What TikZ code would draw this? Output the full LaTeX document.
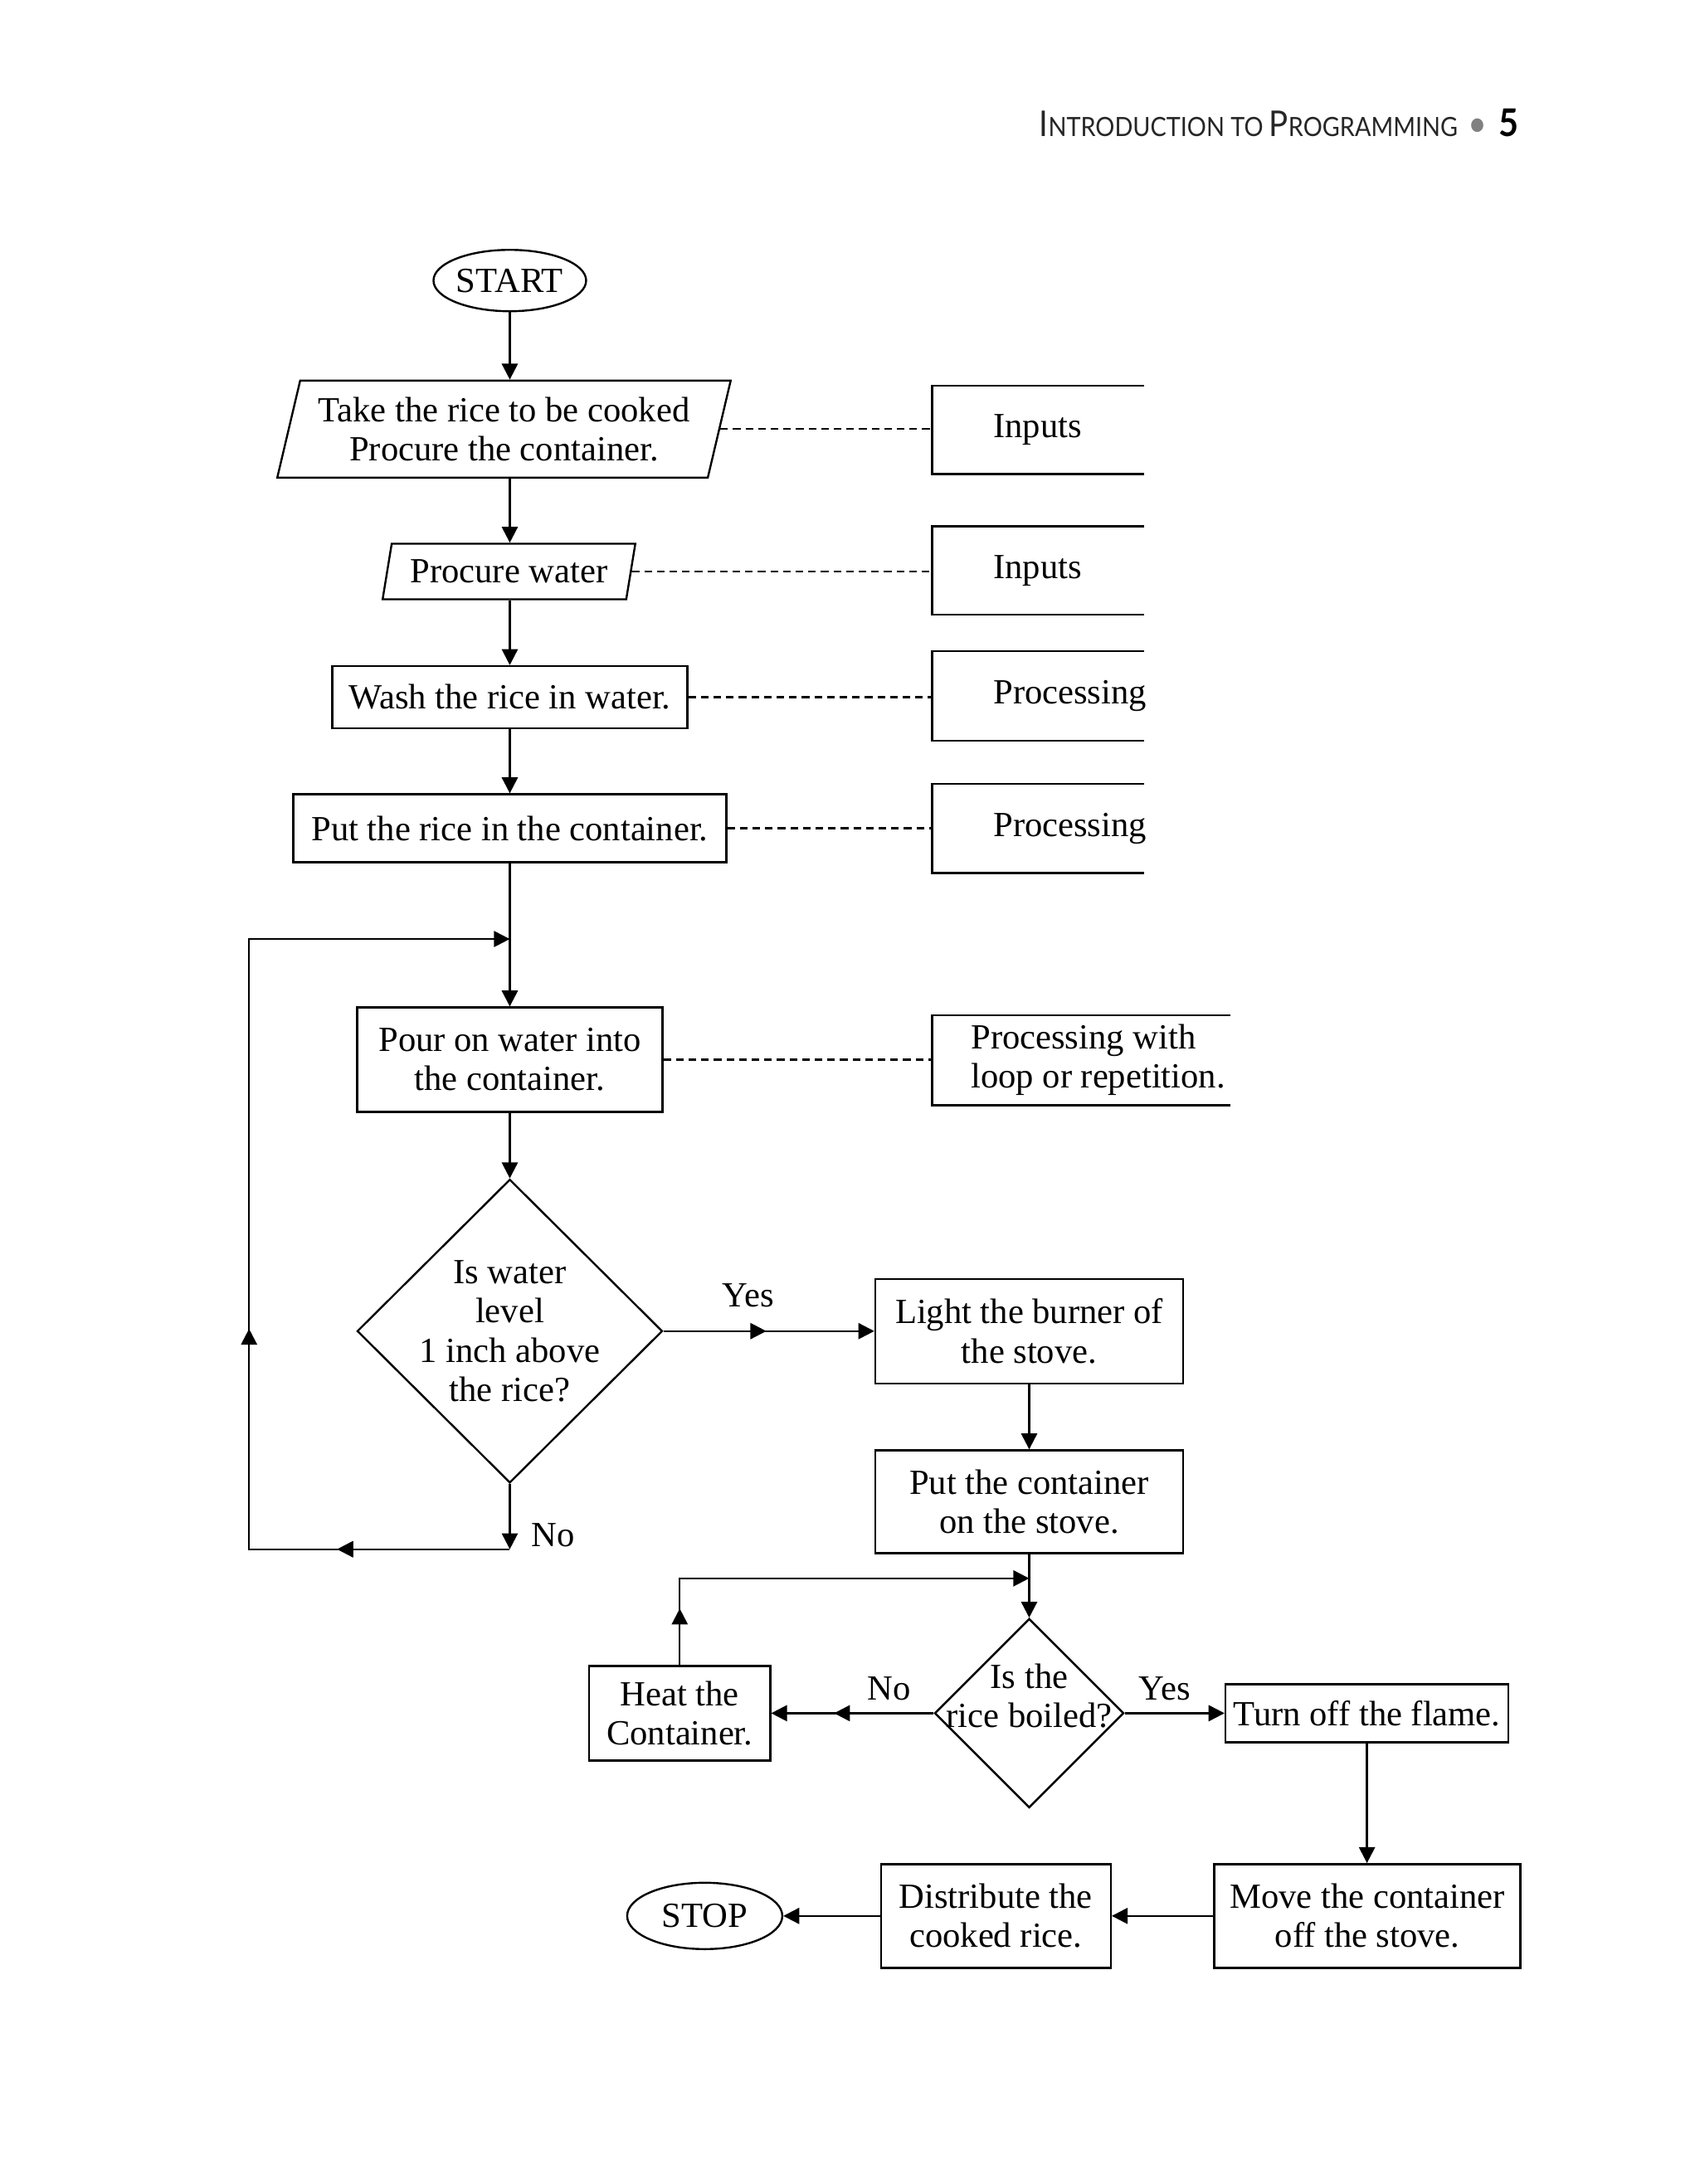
\documentclass[tikz,border=0pt]{standalone}
\usepackage{fontspec}
\setmainfont{Liberation Serif}
\newfontfamily\hdrfont[FakeStretch=0.9]{Lato}
\usetikzlibrary{shapes.geometric, arrows.meta, decorations.markings}
\begin{document}
\begin{tikzpicture}[
  every node/.style={font=\fontsize{10.65}{11.8}\selectfont},
  line/.style={line width=0.6pt},
  arr/.style={line, -{Triangle[length=4.8pt,width=4.8pt]}},
  dashlink/.style={line width=0.55pt, dash pattern=on 2.3pt off 1.5pt},
  base/.style={draw, line width=0.6pt, inner sep=0pt, align=center},
  box/.style={base, rectangle},
  term/.style={base, ellipse},
  para/.style={base, trapezium, trapezium left angle=72, trapezium right angle=108, trapezium stretches=true},
  decision/.style={base, diamond},
  obox/.style={rectangle, inner sep=0pt},
  midarr/.style={postaction={decorate}, decoration={markings, mark=at position #1 with {\arrow{Triangle[length=4.8pt,width=4.8pt]}}}},
  lbl/.style={inner sep=0pt}
]
\useasboundingbox (0pt,0pt) rectangle (512pt,-658.25pt);

% header
\node[anchor=base west, inner sep=0pt, text=black!85] (hdr) at (313pt,-41.25pt)
  {\hdrfont{\fontsize{10.7}{12}\selectfont I}{\fontsize{8.0}{10}\selectfont NTRODUCTION TO }{\fontsize{10.7}{12}\selectfont P}{\fontsize{8.0}{10}\selectfont ROGRAMMING}};
\node[anchor=base, inner sep=0pt, text=black!50] (bul) at (445.25pt,-41.25pt) {\hdrfont\fontsize{11}{12}\selectfont •};
\node[anchor=base, inner sep=0pt] (pg) at (454.5pt,-41.25pt) {\hdrfont\bfseries\fontsize{11.5}{12}\selectfont 5};

\begin{scope}[x=0.251pt, y=-0.2509pt, shift={(1,2)}]
% main column
\node[term, minimum width=46pt, minimum height=18.5pt] (start) at (611,335) {START};
\node[para, minimum width=136.75pt, minimum height=29.25pt] (p1) at (604,513.5) {Take the rice to be cooked\\Procure the container.};
\node[para, minimum width=76.25pt, minimum height=16.75pt] (p2) at (610,684.5) {Procure water};
\node[box, minimum width=107pt, minimum height=18.75pt] (wash) at (611,835.5) {Wash the rice in water.};
\node[box, minimum width=130.5pt, minimum height=20.5pt] (put) at (611,993) {Put the rice in the container.};
\node[box, minimum width=92pt, minimum height=31.5pt] (pour) at (611,1271) {Pour on water into\\the container.};
\node[decision, minimum width=92pt, minimum height=91.5pt] (dia1) at (611,1597) {};
\node[align=center, inner sep=0pt] (dia1t) at (611,1597) {Is water\\level\\1 inch above\\the rice?};

\node[box, minimum width=92.75pt, minimum height=31.5pt] (light) at (1234.5,1597) {Light the burner of\\the stove.};
\node[box, minimum width=92.75pt, minimum height=31pt] (putc) at (1234.5,1802) {Put the container\\on the stove.};
\node[decision, minimum width=57pt, minimum height=57pt] (dia2) at (1234.5,2056) {};
\node[align=center, inner sep=0pt] (dia2t) at (1234.5,2035.5) {Is the\\rice boiled?};
\node[box, minimum width=54.5pt, minimum height=28.5pt] (heat) at (815,2056) {Heat the\\Container.};
\node[box, minimum width=85.25pt, minimum height=17.5pt] (turn) at (1640,2056) {Turn off the flame.};
\node[box, minimum width=92.25pt, minimum height=31.25pt] (move) at (1640.5,2299.5) {Move the container\\off the stove.};
\node[box, minimum width=69.25pt, minimum height=31.25pt] (distr) at (1194.5,2299.5) {Distribute the\\cooked rice.};
\node[term, minimum width=46.75pt, minimum height=20pt] (stop) at (845,2299.5) {STOP};

% open boxes on the right
\node[obox, anchor=west, minimum width=63.5pt, minimum height=26.25pt] (in1) at (1118,514.5) {};
\node[obox, anchor=west, minimum width=63.5pt, minimum height=26.25pt] (in2) at (1118,683.5) {};
\node[obox, anchor=west, minimum width=63.5pt, minimum height=26.5pt] (pr1) at (1118,834) {};
\node[obox, anchor=west, minimum width=63.5pt, minimum height=26.5pt] (pr2) at (1118,993) {};
\node[obox, anchor=west, minimum width=89.5pt, minimum height=26.75pt] (pr3) at (1118,1271.5) {};
\foreach \b in {in1,in2,pr1,pr2,pr3}
  \draw[line] (\b.north east) -- (\b.north west) -- (\b.south west) -- (\b.south east);
\node[anchor=west, inner sep=0pt] (in1t) at ([xshift=18.25pt]in1.west) {Inputs};
\node[anchor=west, inner sep=0pt] (in2t) at ([xshift=18.25pt]in2.west) {Inputs};
\node[anchor=west, inner sep=0pt] (pr1t) at ([xshift=18.25pt]pr1.west) {Processing};
\node[anchor=west, inner sep=0pt] (pr2t) at ([xshift=18.25pt]pr2.west) {Processing};
\node[anchor=west, inner sep=0pt, align=left] (pr3t) at ([xshift=11.5pt]pr3.west) {Processing with\\loop or repetition.};

% dashed links
\draw[dashlink] (p1.east) -- (p1.east -| in1.west);
\draw[dashlink] (p2.east) -- (p2.east -| in2.west);
\draw[dashlink] (wash.east) -- (wash.east -| pr1.west);
\draw[dashlink] (put.east) -- (put.east -| pr2.west);
\draw[dashlink] (pour.east) -- (pour.east -| pr3.west);

% main arrows
\draw[arr] (start.south) -- (start.south |- p1.north);
\draw[arr] (start.south |- p1.south) -- (start.south |- p2.north);
\draw[arr] (start.south |- p2.south) -- (wash.north);
\draw[arr] (wash.south) -- (put.north);
\draw[arr] (put.south) -- (pour.north);
\draw[arr] (pour.south) -- (dia1.north);

% loop
\coordinate (noj) at (611,1859);
\coordinate (lbl) at (298,1859);
\coordinate (ltl) at (298,1126);
\coordinate (ltop) at (611,1126);
\draw[arr] (dia1.south) -- (noj);
\draw[arr, midarr=52pt, postaction={decorate, decoration={markings, mark=at position 145pt with {\arrow{Triangle[length=4.8pt,width=4.8pt]}}}}] (noj) -- (lbl) -- (ltl) -- (ltop);

\draw[arr, midarr=31pt] (dia1.east) -- (light.west);
\draw[arr] (light.south) -- (putc.north);

\coordinate (j2) at (1234.5,1894);
\draw[arr] (putc.south) -- (dia2.north);
\draw[arr, midarr=17pt] (heat.north) -- (heat.north |- j2) -- (j2);
\draw[arr, midarr=30pt] (dia2.west) -- (heat.east);
\draw[arr] (dia2.east) -- (turn.west);
\draw[arr] (turn.south) -- (turn.south |- move.north);
\draw[arr] (move.west) -- (distr.east);
\draw[arr] (distr.west) -- (stop.east);

% labels
\node[lbl] (yes1) at (897,1554) {Yes};
\node[lbl] (no1) at (663,1842) {No};
\node[lbl] (no2) at (1066,2026) {No};
\node[lbl] (yes2) at (1397,2026) {Yes};
\end{scope}
\end{tikzpicture}
\end{document}
